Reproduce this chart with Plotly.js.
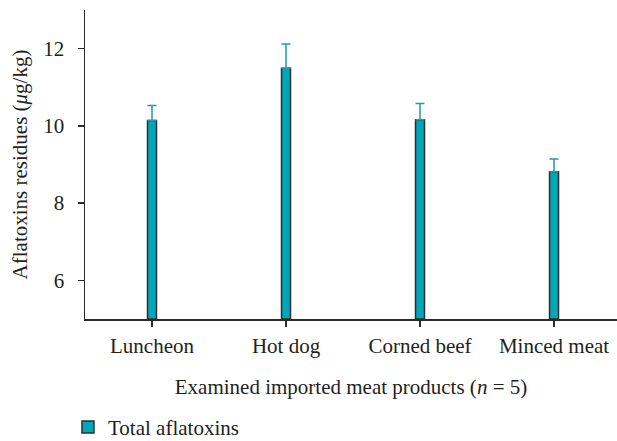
<!DOCTYPE html>
<html>
<head>
<meta charset="utf-8">
<script src="https://cdn.plot.ly/plotly-3.0.1.min.js"></script>
<style>html,body{margin:0;padding:0;background:#fff;}#chart{width:617px;height:441px;}</style>
</head>
<body>
<div id="chart"></div>
<script>
const categories = ["Luncheon", "Hot dog", "Corned beef", "Minced meat"];
const totalAflatoxins = [10.14, 11.49, 10.16, 8.81];
const errorPlus = [0.39, 0.63, 0.42, 0.33];
const yTickVals = [6, 8, 10, 12];
const seriesName = "Total aflatoxins";
const yBase = 5;

const FONT = "Liberation Serif, Times New Roman, serif";
const AXIS = "#2b2b2b";

const trace = {
  type: "bar",
  name: seriesName,
  x: categories,
  y: totalAflatoxins.map(v => v - yBase),
  base: yBase,
  width: 0.067,
  marker: {color: "#00A7B8", line: {color: "#2e2e2e", width: 1.5}},
  error_y: {type: "data", symmetric: false, array: errorPlus, arrayminus: [0,0,0,0], color: "#2199a8", thickness: 1.5, width: 4.5},
  showlegend: true
};

const layout = {
  width: 617, height: 441,
  margin: {l: 85, r: 0, t: 10, b: 122, autoexpand: false},
  paper_bgcolor: "#fff", plot_bgcolor: "#fff",
  font: {family: FONT, size: 21, color: "#231f20"},
  showlegend: true,
  legend: {orientation: "h", x: -0.032, xanchor: "left", y: -0.284, yanchor: "top", font: {size: 21}, bgcolor: "rgba(0,0,0,0)"},
  xaxis: {
    range: [-0.5, 3.47], showline: true, linecolor: AXIS, linewidth: 1.5,
    ticks: "outside", ticklen: 6, tickwidth: 1.5, tickcolor: AXIS, ticklabelstandoff: 1,
    showgrid: false, zeroline: false, automargin: false,
    title: {text: "Examined imported meat products (<i>n</i> = 5)", font: {size: 21}, standoff: 22}
  },
  yaxis: {
    range: [5, 13], tickvals: yTickVals, showline: true, linecolor: AXIS, linewidth: 1.5,
    ticks: "outside", ticklen: 6, tickwidth: 1.5, tickcolor: AXIS, ticklabelstandoff: 9,
    showgrid: false, zeroline: false, automargin: false,
    title: {text: "Aflatoxins residues (<i>μ</i>g/kg)", font: {size: 21}, standoff: 10}
  },
  bargap: 0
};
Plotly.newPlot("chart", [trace], layout, {displayModeBar: false, staticPlot: true});
</script>
</body>
</html>
